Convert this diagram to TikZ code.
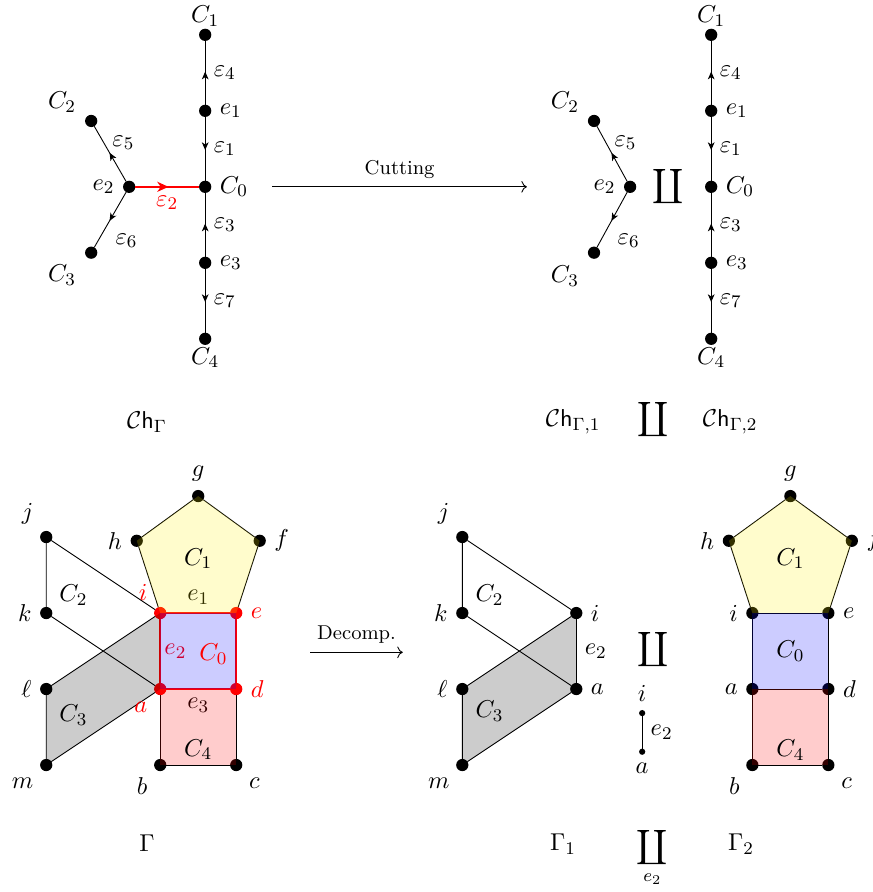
\documentclass[tikz,border=0pt,11pt]{standalone}
\usepackage{amsmath, amssymb}
\usepackage{xcolor}
\usepackage{tikz}
\usetikzlibrary{decorations.markings, arrows.meta, calc}
\tikzset{
    vertex/.style={circle, fill=black, minimum size=5.5pt, inner sep=0pt, outer sep=0pt},
    redvertex/.style={vertex, fill=red},
    tinyvertex/.style={circle, fill=black, minimum size=2.8pt, inner sep=0pt, outer sep=0pt},
    flow/.style={decoration={markings, mark=at position 0.52 with {\arrow{Stealth[length=3.5pt, width=3pt, inset=1pt]}}}, postaction={decorate}},
    cutflow/.style={draw=red, thick, decoration={markings, mark=at position 0.52 with {\arrow{Stealth[length=5pt, width=4.5pt, inset=1.5pt]}}}, postaction={decorate}},
    cutedge/.style={draw=red, thick},
    face/.style={opacity=0.2},
    opname/.style={font=\footnotesize}
}

\begin{document}
\begin{tikzpicture}
    \useasboundingbox (0,0) rectangle (13.77,-14.085);

    % Ch_Gamma before cutting
    \begin{scope}[shift={(3.24,-2.95)}, name prefix=L-]
        \node[vertex] (C0) at (0,0) {};
        \node[vertex] (e1) at (0,1.2) {};
        \node[vertex] (C1) at (0,2.4) {};
        \node[vertex] (e3) at (0,-1.2) {};
        \node[vertex] (C4) at (0,-2.4) {};
        \node[vertex] (e2) at (-1.2,0) {};
        \node[vertex] (C2) at (-1.8,1.04) {};
        \node[vertex] (C3) at (-1.8,-1.04) {};
        \draw[flow] (e1) -- node[right] (t4) {$\varepsilon_4$} (C1);
        \draw[flow] (e1) -- node[right] (t1) {$\varepsilon_1$} (C0);
        \draw[flow] (e3) -- node[right] (t3) {$\varepsilon_3$} (C0);
        \draw[flow] (e3) -- node[right] (t7) {$\varepsilon_7$} (C4);
        \draw[flow] (e2) -- node[pos=0.7, right] (t5) {$\varepsilon_5$} (C2);
        \draw[flow] (e2) -- node[pos=0.6, below right] (t6) {$\varepsilon_6$} (C3);
        \draw[cutflow] (e2) -- node[below, red] (t2) {$\varepsilon_2$} (C0); % the cut edge
        \node[above, inner sep=1pt] (tC1) at (C1.north) {$C_1$};
        \node[right] (te1) at (e1.east) {$e_1$};
        \node[right] (tC0) at (C0.east) {$C_0$};
        \node[right] (te3) at (e3.east) {$e_3$};
        \node[below, inner sep=1pt] (tC4) at (C4.south) {$C_4$};
        \node[left] (te2) at (e2.west) {$e_2$};
        \node (tC2) at (-2.26,1.34) {$C_2$};
        \node (tC3) at (-2.26,-1.39) {$C_3$};
    \end{scope}

    \coordinate (cutL) at (4.30,-2.95);
    \coordinate (cutR) at (8.32,-2.95);
    \draw[->] (cutL) -- node[above, opname] (cutname) {Cutting} (cutR);

    % Ch_Gamma after cutting
    \begin{scope}[shift={(11.23,-2.95)}, name prefix=R-]
        \node[vertex] (C0) at (0,0) {};
        \node[vertex] (e1) at (0,1.2) {};
        \node[vertex] (C1) at (0,2.4) {};
        \node[vertex] (e3) at (0,-1.2) {};
        \node[vertex] (C4) at (0,-2.4) {};
        \node[vertex] (e2) at (-1.28,0) {};
        \node[vertex] (C2) at (-1.85,1.04) {};
        \node[vertex] (C3) at (-1.85,-1.04) {};
        \draw[flow] (e1) -- node[right] (t4) {$\varepsilon_4$} (C1);
        \draw[flow] (e1) -- node[right] (t1) {$\varepsilon_1$} (C0);
        \draw[flow] (e3) -- node[right] (t3) {$\varepsilon_3$} (C0);
        \draw[flow] (e3) -- node[right] (t7) {$\varepsilon_7$} (C4);
        \draw[flow] (e2) -- node[pos=0.7, right] (t5) {$\varepsilon_5$} (C2);
        \draw[flow] (e2) -- node[pos=0.6, below right] (t6) {$\varepsilon_6$} (C3);
        \node[above, inner sep=1pt] (tC1) at (C1.north) {$C_1$};
        \node[right] (te1) at (e1.east) {$e_1$};
        \node[right] (tC0) at (C0.east) {$C_0$};
        \node[right] (te3) at (e3.east) {$e_3$};
        \node[below, inner sep=1pt] (tC4) at (C4.south) {$C_4$};
        \node[left] (te2) at (e2.west) {$e_2$};
        \node (tC2) at (-2.31,1.34) {$C_2$};
        \node (tC3) at (-2.31,-1.41) {$C_3$};
        \node (sum) at (-0.68,0) {$\displaystyle\coprod$};
    \end{scope}

    \node (chG) at (2.32,-6.66) {$\mathcal{C}\mathsf{h}_\Gamma$};
    \node (chG1) at (9.05,-6.66) {$\mathcal{C}\mathsf{h}_{\Gamma,1}$};
    \node (chsum) at (10.31,-6.63) {$\displaystyle\coprod$};
    \node (chG2) at (11.53,-6.66) {$\mathcal{C}\mathsf{h}_{\Gamma,2}$};

    % Gamma
    \begin{scope}[shift={(2.53,-10.88)}, name prefix=G-]
        \node[redvertex] (a) at (0,0) {};
        \node[redvertex] (i) at (0,1.2) {};
        \node[redvertex] (e) at (1.2,1.2) {};
        \node[redvertex] (d) at (1.2,0) {};
        \node[vertex] (b) at (0,-1.2) {};
        \node[vertex] (c) at (1.2,-1.2) {};
        \node[vertex] (h) at (-0.371,2.341) {};
        \node[vertex] (g) at (0.6,3.047) {};
        \node[vertex] (f) at (1.571,2.341) {};
        \node[vertex] (j) at (-1.8,2.4) {};
        \node[vertex] (k) at (-1.8,1.2) {};
        \node[vertex] (l) at (-1.8,0) {};
        \node[vertex] (m) at (-1.8,-1.2) {};
        \draw (j) -- (k) (j) -- (i) (k) -- (a) (l) -- (i) (l) -- (m) (m) -- (a);
        \draw (i) -- (h) -- (g) -- (f) -- (e);
        \draw (a) -- (b) -- (c) -- (d);
        \draw[cutedge] (i) -- node[above, black] (te1) {$e_1$} (e) -- (d)
            -- node[below, black] (te3) {$e_3$} (a) -- node[right, red, inner sep=1.5pt] (te2) {$e_2$} (i);
        \fill[yellow, face] (i.center) -- (h.center) -- (g.center) -- (f.center) -- (e.center) -- cycle;
        \fill[blue, face] (i.center) -- (e.center) -- (d.center) -- (a.center) -- cycle;
        \fill[red, face] (a.center) -- (d.center) -- (c.center) -- (b.center) -- cycle;
        \fill[black, face] (l.center) -- (i.center) -- (a.center) -- (m.center) -- cycle;
        \node[above] (tg) at (g.north) {$g$};
        \node[left] (th) at (h.west) {$h$};
        \node[right] (tf) at (f.east) {$f$};
        \node[above left] (tj) at (j.north west) {$j$};
        \node[left] (tk) at (k.west) {$k$};
        \node[left] (tl) at (l.west) {$\ell$};
        \node[below left] (tm) at (m.south west) {$m$};
        \node[below left] (tb) at (b.south west) {$b$};
        \node[below right] (tc) at (c.south east) {$c$};
        \node[above left, red] (ti) at (i.north west) {$i$};
        \node[below left, red] (ta) at (a.south west) {$a$};
        \node[right, red] (te) at (e.east) {$e$};
        \node[right, red] (td) at (d.east) {$d$};
        \node (tC1) at (0.6,2.06) {$C_1$};
        \node[red] (tC0) at (0.84,0.55) {$C_0$};
        \node (tC4) at (0.6,-0.96) {$C_4$};
        \node (tC2) at (-1.37,1.48) {$C_2$};
        \node (tC3) at (-1.37,-0.41) {$C_3$};
    \end{scope}

    \coordinate (decL) at (4.90,-10.30);
    \coordinate (decR) at (6.36,-10.30);
    \draw[->] (decL) -- node[above, opname] (decname) {Decomp.} (decR);

    % Gamma_1 and the edge e_2
    \begin{scope}[shift={(9.10,-10.88)}, name prefix=GA-]
        \node[vertex] (a) at (0,0) {};
        \node[vertex] (i) at (0,1.2) {};
        \node[vertex] (j) at (-1.8,2.4) {};
        \node[vertex] (k) at (-1.8,1.2) {};
        \node[vertex] (l) at (-1.8,0) {};
        \node[vertex] (m) at (-1.8,-1.2) {};
        \draw (j) -- (k) (j) -- (i) (k) -- (a) (l) -- (i) (l) -- (m) (m) -- (a);
        \draw (i) -- node[right] (te2) {$e_2$} (a);
        \fill[black, face] (l.center) -- (i.center) -- (a.center) -- (m.center) -- cycle;
        \node[above left] (tj) at (j.north west) {$j$};
        \node[left] (tk) at (k.west) {$k$};
        \node[left] (tl) at (l.west) {$\ell$};
        \node[below left] (tm) at (m.south west) {$m$};
        \node[right] (ti) at (i.east) {$i$};
        \node[right] (ta) at (a.east) {$a$};
        \node (tC2) at (-1.37,1.48) {$C_2$};
        \node (tC3) at (-1.37,-0.35) {$C_3$};
        \node (sum) at (1.22,0.62) {$\displaystyle\coprod$};
        \node[tinyvertex] (si) at (1.04,-0.38) {};
        \node[tinyvertex] (sa) at (1.04,-0.99) {};
        \draw (si) -- node[right] (se2) {$e_2$} (sa);
        \node[above] (tsi) at (si.north) {$i$};
        \node[below] (tsa) at (sa.south) {$a$};
    \end{scope}

    % Gamma_2
    \begin{scope}[shift={(11.88,-10.88)}, name prefix=GB-]
        \node[vertex] (a) at (0,0) {};
        \node[vertex] (i) at (0,1.2) {};
        \node[vertex] (e) at (1.2,1.2) {};
        \node[vertex] (d) at (1.2,0) {};
        \node[vertex] (b) at (0,-1.2) {};
        \node[vertex] (c) at (1.2,-1.2) {};
        \node[vertex] (h) at (-0.371,2.341) {};
        \node[vertex] (g) at (0.6,3.047) {};
        \node[vertex] (f) at (1.571,2.341) {};
        \draw (i) -- (h) -- (g) -- (f) -- (e);
        \draw (i) -- (e) -- (d) -- (a) -- (i);
        \draw (a) -- (b) -- (c) -- (d);
        \fill[yellow, face] (i.center) -- (h.center) -- (g.center) -- (f.center) -- (e.center) -- cycle;
        \fill[blue, face] (i.center) -- (e.center) -- (d.center) -- (a.center) -- cycle;
        \fill[red, face] (a.center) -- (d.center) -- (c.center) -- (b.center) -- cycle;
        \node[above] (tg) at (g.north) {$g$};
        \node[left] (th) at (h.west) {$h$};
        \node[right] (tf) at (f.east) {$f$};
        \node[left] (ti) at (i.west) {$i$};
        \node[right] (te) at (e.east) {$e$};
        \node[left] (ta) at (a.west) {$a$};
        \node[right] (td) at (d.east) {$d$};
        \node[below left] (tb) at (b.south west) {$b$};
        \node[below right] (tc) at (c.south east) {$c$};
        \node (tC1) at (0.6,2.06) {$C_1$};
        \node (tC0) at (0.6,0.6) {$C_0$};
        \node (tC4) at (0.6,-0.97) {$C_4$};
    \end{scope}

    \node (gam) at (2.32,-13.31) {$\Gamma$};
    \node (gam1) at (8.89,-13.33) {$\Gamma_1$};
    \node[anchor=north] (gamsum) at (10.30,-12.94) {$\displaystyle\coprod_{e_2}$};
    \node (gam2) at (11.70,-13.33) {$\Gamma_2$};
\end{tikzpicture}
\end{document}
